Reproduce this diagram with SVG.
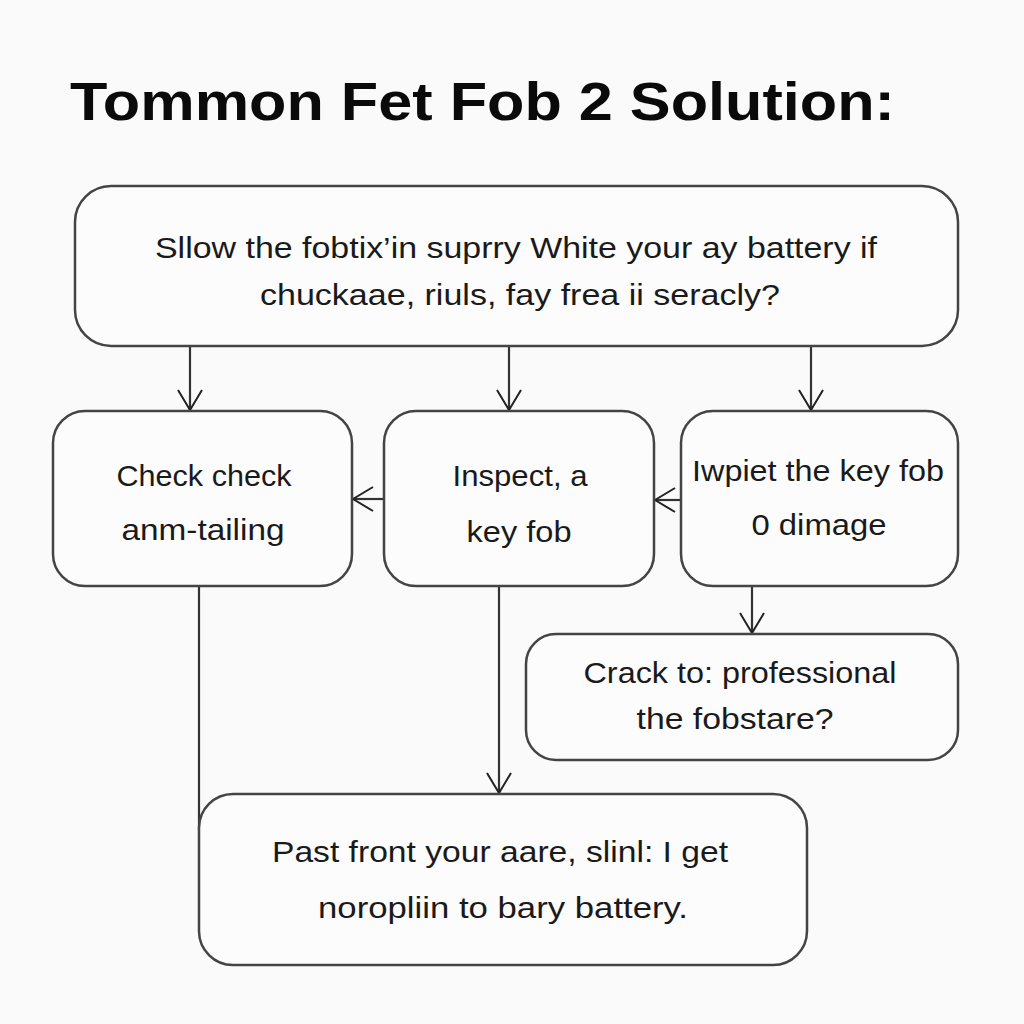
<svg xmlns="http://www.w3.org/2000/svg" width="1024" height="1024" viewBox="0 0 1024 1024">
<defs>
<style>
.box{fill:#fcfcfc;stroke:#444;stroke-width:2.5}
.t{font-family:"Liberation Sans","Open Sans",sans-serif;font-size:30px;fill:#1a1a1a;text-anchor:middle}
.c{fill:none;stroke:#333;stroke-width:2.2}
.title{font-family:"Liberation Sans",Arial,sans-serif;font-weight:bold;font-size:53px;fill:#0a0a0a}
</style>
<marker id="ah" viewBox="0 0 22 26" refX="21" refY="13" markerWidth="22" markerHeight="26" markerUnits="userSpaceOnUse" orient="auto">
<path d="M1,1 L21,13 L1,25" fill="none" stroke="#222" stroke-width="2"/>
</marker>
</defs>
<rect width="1024" height="1024" fill="#fafafa"/>
<text class="title" x="70" y="120" textLength="825" lengthAdjust="spacingAndGlyphs">Tommon Fet Fob 2 Solution:</text>
<g id="connectors">
<line class="c" x1="190" y1="346" x2="190" y2="410" marker-end="url(#ah)"/>
<line class="c" x1="509" y1="346" x2="509" y2="410" marker-end="url(#ah)"/>
<line class="c" x1="811" y1="346" x2="811" y2="410" marker-end="url(#ah)"/>
<line class="c" x1="384" y1="499" x2="353" y2="499" marker-end="url(#ah)"/>
<line class="c" x1="681" y1="500" x2="655" y2="500" marker-end="url(#ah)"/>
<line class="c" x1="752" y1="586" x2="752" y2="633" marker-end="url(#ah)"/>
<line class="c" x1="499" y1="586" x2="499" y2="793" marker-end="url(#ah)"/>
<line class="c" x1="199" y1="586" x2="199" y2="830"/>
</g>
<g id="node-top">
<rect class="box" x="75" y="186" width="883" height="160" rx="36"/>
<text class="t" x="516" y="258" textLength="722" lengthAdjust="spacingAndGlyphs">Sllow the fobtix’in suprry White your ay battery if</text>
<text class="t" x="520" y="305" textLength="520" lengthAdjust="spacingAndGlyphs">chuckaae, riuls, fay frea ii seracly?</text>
</g>
<g id="node-check">
<rect class="box" x="53" y="411" width="299" height="175" rx="32"/>
<text class="t" x="204" y="486" textLength="175" lengthAdjust="spacingAndGlyphs">Check check</text>
<text class="t" x="203" y="540" textLength="163" lengthAdjust="spacingAndGlyphs">anm-tailing</text>
</g>
<g id="node-inspect">
<rect class="box" x="384" y="411" width="270" height="175" rx="32"/>
<text class="t" x="520" y="486" textLength="135" lengthAdjust="spacingAndGlyphs">Inspect, a</text>
<text class="t" x="519" y="542" textLength="105" lengthAdjust="spacingAndGlyphs">key fob</text>
</g>
<g id="node-iwpiet">
<rect class="box" x="681" y="411" width="277" height="175" rx="32"/>
<text class="t" x="818" y="481" textLength="252" lengthAdjust="spacingAndGlyphs">Iwpiet the key fob</text>
<text class="t" x="819" y="535" textLength="135" lengthAdjust="spacingAndGlyphs">0 dimage</text>
</g>
<g id="node-crack">
<rect class="box" x="526" y="634" width="432" height="126" rx="30"/>
<text class="t" x="740" y="683" textLength="313" lengthAdjust="spacingAndGlyphs">Crack to: professional</text>
<text class="t" x="735" y="729" textLength="197" lengthAdjust="spacingAndGlyphs">the fobstare?</text>
</g>
<g id="node-past">
<rect class="box" x="199" y="794" width="608" height="171" rx="34"/>
<text class="t" x="500" y="862" textLength="456" lengthAdjust="spacingAndGlyphs">Past front your aare, slinl: I get</text>
<text class="t" x="503" y="918" textLength="370" lengthAdjust="spacingAndGlyphs">noropliin to bary battery.</text>
</g>
</svg>
